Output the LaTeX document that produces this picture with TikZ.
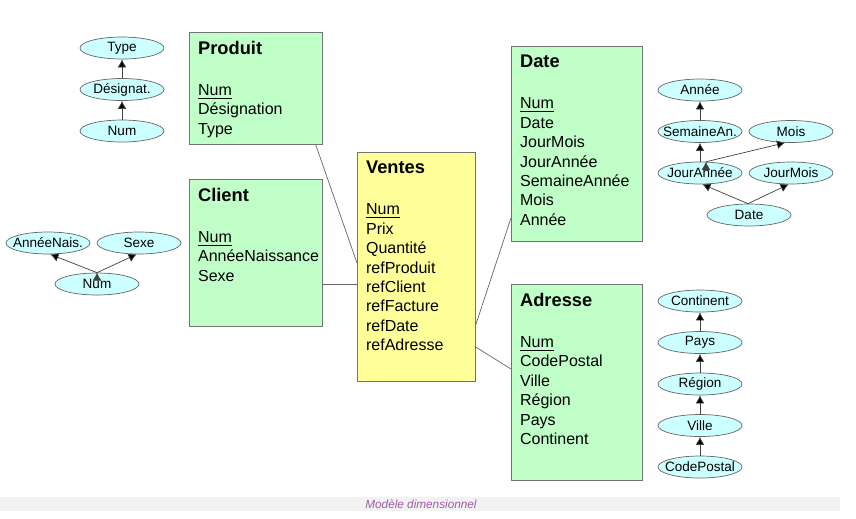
\documentclass[tikz,border=0pt]{standalone}
\usepackage{fontspec}
\setmainfont{Liberation Sans}
\usetikzlibrary{arrows.meta,shapes.geometric}

\definecolor{dimgreen}{RGB}{192,255,200}
\definecolor{factyellow}{RGB}{255,255,153}
\definecolor{levelcyan}{RGB}{204,255,255}
\definecolor{captionpurple}{RGB}{160,90,165}

% fixed size field list, text kept at the top
\newcommand{\fields}[3]{\parbox[t][\dimexpr#2cm-10pt\relax][t]{\dimexpr#1cm-10pt\relax}{%
  \fontsize{9.1}{11.05}\selectfont #3}}
\newcommand{\tname}[1]{{\fontsize{10.4}{11.05}\selectfont\bfseries #1}\\[12.4pt]}

\begin{document}
\begin{tikzpicture}[x=0.02cm, y=-0.02cm, node distance=0.83cm]
    \tikzstyle{table}=[draw=black!55, anchor=north west, inner sep=5pt, rectangle]
    \tikzstyle{dim}=[table, fill=dimgreen]
    \tikzstyle{fact}=[table, fill=factyellow]
    \tikzstyle{level}=[ellipse, draw=black!60, fill=levelcyan, inner sep=0pt,
                       minimum width=1.68cm, minimum height=0.44cm,
                       font=\fontsize{7.7}{9}\selectfont,
                       execute at begin node={\hbox to 0pt\bgroup\hss},
                       execute at end node={\hss\egroup}]
    \tikzstyle{link}=[draw=black!60, thin]
    \tikzstyle{rollup}=[-{Latex[length=4.6pt,width=5pt]}, draw=black!75, thin]

    \useasboundingbox (0,0) rectangle (856,518);

    % caption bar
    \fill[black!5] (0,497) rectangle (840,511);
    \node (caption) at (421,504) {\fontsize{6.7}{8}\selectfont\itshape\color{captionpurple}Modèle dimensionnel};

    % tables
    \node[dim]  (produit) at (189,32)  {\fields{2.66}{2.24}{\tname{Produit}\underline{Num}\\Désignation\\Type}};
    \node[dim]  (client)  at (189,179) {\fields{2.66}{2.94}{\tname{Client}\underline{Num}\\AnnéeNaissance\\Sexe}};
    \node[fact] (ventes)  at (357,152) {\fields{2.36}{4.58}{\tname{Ventes}\underline{Num}\\Prix\\Quantité\\refProduit\\refClient\\refFacture\\refDate\\refAdresse}};
    \node[dim]  (date)    at (511,46)  {\fields{2.62}{3.90}{\tname{Date}\underline{Num}\\Date\\JourMois\\JourAnnée\\SemaineAnnée\\Mois\\Année}};
    \node[dim]  (adresse) at (511,284) {\fields{2.62}{3.92}{\tname{Adresse}\underline{Num}\\CodePostal\\Ville\\Région\\Pays\\Continent}};

    \path[link] (produit.south east) ++(-7,0) coordinate (p1) (p1) -- (ventes.west |- 0,263);
    \draw[link] (client.east |- 0,284) -- (ventes.west |- 0,284);
    \draw[link] (ventes.east |- 0,325) -- (date.west |- 0,218);
    \draw[link] (ventes.east |- 0,347) -- (adresse.west |- 0,369);

    % produit hierarchy
    \node[level] (pnum)  at (122,131)  {Num};
    \node[level] (pdes)  [above of=pnum] {Désignat.};
    \node[level] (ptype) [above of=pdes] {Type};
    \path[rollup] (pnum) edge (pdes)
                  (pdes) edge (ptype);

    % client hierarchy
    \node[level] (cnum)  at (97,284) {Num};
    \node[level] (cann)  at (48,243) {AnnéeNais.};
    \node[level] (csexe) at (139,243) {Sexe};
    \path[rollup] (cnum.north) edge (cann.-78)
                  (cnum.north) edge (csexe.-102);

    % date hierarchy
    \node[level] (ddate) at (749,215) {Date};
    \node[level] (djann) at (700,173) {JourAnnée};
    \node[level] (djmo)  at (791,173) {JourMois};
    \node[level] (dsem)  [above of=djann] {SemaineAn.};
    \node[level] (dmois) [above of=djmo]  {Mois};
    \node[level] (dann)  [above of=dsem]  {Année};
    \path[rollup] (ddate.95) edge (djann.-78)
                  (ddate.95) edge (djmo.-102)
                  (djann) edge (dsem)
                  (djann.62) edge (dmois.-118)
                  (dsem) edge (dann);

    % adresse hierarchy
    \node[level] (acp)   at (700,467) {CodePostal};
    \node[level] (aville) [above of=acp]    {Ville};
    \node[level] (areg)   [above of=aville] {Région};
    \node[level] (apays)  [above of=areg]   {Pays};
    \node[level] (acont)  [above of=apays]  {Continent};
    \path[rollup] (acp) edge (aville)
                  (aville) edge (areg)
                  (areg) edge (apays)
                  (apays) edge (acont);
\end{tikzpicture}
\end{document}
